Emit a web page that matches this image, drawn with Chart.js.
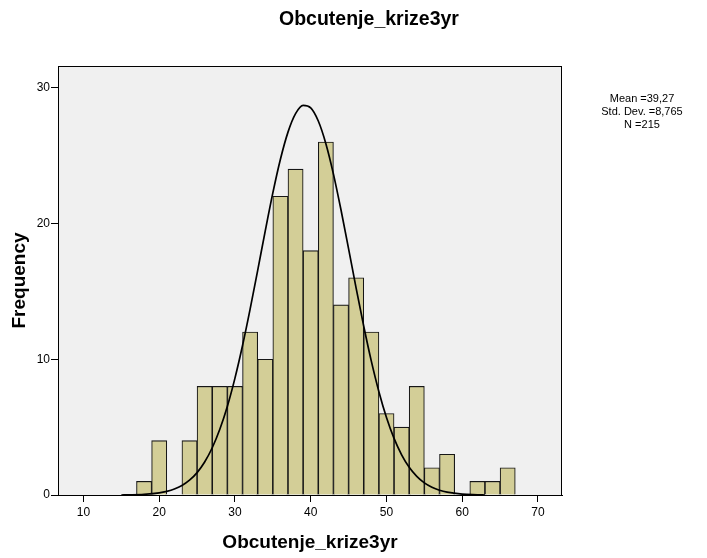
<!DOCTYPE html>
<html>
<head>
<meta charset="utf-8">
<script src="https://cdn.jsdelivr.net/npm/chart.js@4.4.1/dist/chart.umd.min.js"></script>
<style>
  html, body { margin: 0; padding: 0; background: #ffffff; }
  #wrap { position: relative; width: 707px; height: 558px; }
  #title {
    position: absolute; left: 0; width: 738px; top: 7px;
    text-align: center; color: #000;
    font: bold 19.5px "Liberation Sans", Arial, sans-serif;
  }
  #stats {
    position: absolute; left: 582px; width: 120px; top: 92px;
    text-align: center; color: #000;
    font: 11px/13px "Liberation Sans", Arial, sans-serif;
  }
  canvas { display: block; }
</style>
</head>
<body>
<div id="wrap">
  <canvas id="chart" width="707" height="558"></canvas>
  <div id="title"></div>
  <div id="stats"></div>
</div>
<script>
// Histogram of Obcutenje_krize3yr (bin width 2) with its normal curve
const chartTitle = 'Obcutenje_krize3yr';
const xAxisTitle = 'Obcutenje_krize3yr';
const yAxisTitle = 'Frequency';
const statLines = ['Mean =39,27', 'Std. Dev. =8,765', 'N =215'];

const binCenters  = [18, 20, 22, 24, 26, 28, 30, 32, 34, 36, 38, 40, 42, 44, 46, 48, 50, 52, 54, 56, 58, 60, 62, 64, 66];
const frequencies = [ 1,  4,  0,  4,  8,  8,  8, 12, 10, 22, 24, 18, 26, 14, 16, 12,  6,  5,  8,  2,  3,  0,  1,  1,  2];

// normal curve, read point by point
const curveX = [15, 16, 18, 20, 21, 22, 23, 24, 25, 26, 27, 28, 29, 30, 31, 32, 33, 34, 35, 36, 37, 38, 39,
                40, 41, 42, 43, 44, 45, 46, 47, 48, 49, 50, 51, 52, 53, 54, 55, 56, 57, 58, 60, 62, 63];
const curveY = [0, 0.01, 0.05, 0.16, 0.27, 0.44, 0.70, 1.09, 1.65, 2.43, 3.48, 4.84, 6.54, 8.61, 11.01, 13.69,
                16.55, 19.46, 22.25, 24.73, 26.73, 28.09, 28.70, 28.52, 27.55, 25.88, 23.64, 20.99, 18.13, 15.22,
                12.43, 9.86, 7.61, 5.71, 4.17, 2.96, 2.04, 1.37, 0.89, 0.57, 0.35, 0.21, 0.07, 0.02, 0];

const xTickValues = [10, 20, 30, 40, 50, 60, 70];
const yTickValues = [0, 10, 20, 30];
const xRange = [6.64, 73.17];
const yRange = [0, 31.6];

document.getElementById('title').textContent = chartTitle;
document.getElementById('stats').innerHTML = statLines.map(s => '<div>' + s + '</div>').join('');

const FONT = '"Liberation Sans", Arial, sans-serif';

const plotFrame = {
  id: 'plotFrame',
  beforeDatasetsDraw(chart) {
    const { ctx, chartArea: a } = chart;
    ctx.save();
    ctx.fillStyle = '#f0f0f0';
    ctx.fillRect(a.left, a.top, a.right - a.left, a.bottom - a.top);
    ctx.restore();
  },
  afterDraw(chart) {
    const { ctx, chartArea: a } = chart;
    ctx.save();
    ctx.strokeStyle = '#000';
    ctx.lineWidth = 1;
    ctx.strokeRect(a.left + 0.5, a.top + 0.5, a.right - a.left - 1, a.bottom - a.top);
    ctx.restore();
  }
};

new Chart(document.getElementById('chart'), {
  type: 'bar',
  data: {
    datasets: [
      {
        type: 'line',
        data: curveX.map((x, i) => ({ x, y: curveY[i] })),
        borderColor: '#000',
        borderWidth: 1.7,
        pointRadius: 0,
        fill: false,
        cubicInterpolationMode: 'monotone',
        order: 0
      },
      {
        type: 'bar',
        data: binCenters.map((x, i) => ({ x, y: frequencies[i] })),
        backgroundColor: '#d3ce97',
        borderColor: '#161616',
        borderWidth: 1.1,
        categoryPercentage: 1,
        barPercentage: 1,
        order: 1
      }
    ]
  },
  options: {
    responsive: false,
    animation: false,
    devicePixelRatio: 1,
    layout: { padding: { top: 66, right: 145, left: 0, bottom: 0 } },
    plugins: { legend: { display: false }, tooltip: { enabled: false } },
    scales: {
      x: {
        type: 'linear',
        min: xRange[0],
        max: xRange[1],
        offset: false,
        afterBuildTicks(s) { s.ticks = xTickValues.map(v => ({ value: v })); },
        afterFit(s) { s.height = 63; },
        grid: { display: true, offset: false, drawOnChartArea: false, drawTicks: true, tickLength: 7, color: '#000' },
        border: { display: true, color: '#000', width: 1 },
        ticks: { color: '#000', padding: 3, font: { family: FONT, size: 12 }, maxRotation: 0 },
        title: {
          display: true, text: xAxisTitle, color: '#000',
          font: { family: FONT, size: 19, weight: 'bold' },
          padding: { top: 0, bottom: 4 }
        }
      },
      y: {
        type: 'linear',
        min: yRange[0],
        max: yRange[1],
        afterBuildTicks(s) { s.ticks = yTickValues.map(v => ({ value: v })); },
        afterFit(s) { s.width = 58; },
        grid: { display: true, drawOnChartArea: false, drawTicks: true, tickLength: 7, color: '#000' },
        border: { display: true, color: '#000', width: 1 },
        ticks: { color: '#000', padding: 1, font: { family: FONT, size: 12 } },
        title: {
          display: true, text: yAxisTitle, color: '#000',
          font: { family: FONT, size: 19, weight: 'bold' },
          padding: { top: 8, bottom: 0 }
        }
      }
    }
  },
  plugins: [plotFrame]
});
</script>
</body>
</html>
